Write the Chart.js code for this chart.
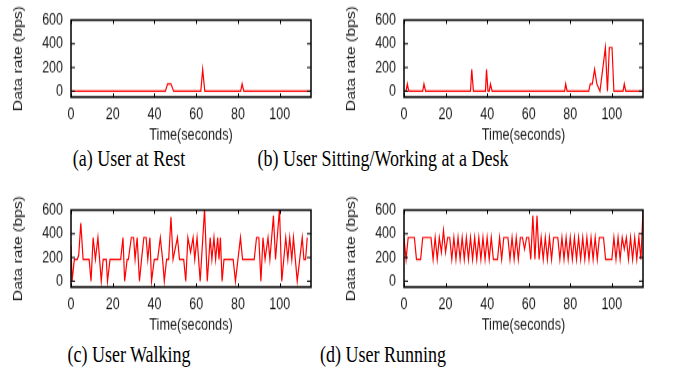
<!DOCTYPE html>
<html>
<head>
<meta charset="utf-8">
<script src="https://cdn.jsdelivr.net/npm/chart.js@4.4.1/dist/chart.umd.min.js"></script>
<style>
  body { margin: 0; background: #fff; width: 691px; height: 370px; position: relative; overflow: hidden; }
  /* the source figure is stretched vertically, so each panel is drawn 112px high and scaled to 145px */
  .box { position: absolute; width: 330px; height: 112px; transform: scaleY(1.2946); transform-origin: 0 0; }
  .box canvas { display: block; }
  .cap {
    position: absolute;
    font-family: "Liberation Serif", "Times New Roman", serif;
    font-size: 18px;
    line-height: 18px;
    color: #000;
    white-space: nowrap;
    transform: translateX(-50%) scaleY(1.25);
  }
</style>
</head>
<body>
<div class="box" style="left:0px;top:0px"><canvas id="rest" width="330" height="112"></canvas></div>
<div class="box" style="left:333px;top:0px"><canvas id="desk" width="330" height="112"></canvas></div>
<div class="box" style="left:0px;top:190px"><canvas id="walk" width="330" height="112"></canvas></div>
<div class="box" style="left:333px;top:190px"><canvas id="run" width="330" height="112"></canvas></div>
<div class="cap" style="left:129px;top:149px">(a) User at Rest</div>
<div class="cap" style="left:383px;top:149px">(b) User Sitting/Working at a Desk</div>
<div class="cap" style="left:129px;top:345px">(c) User Walking</div>
<div class="cap" style="left:383px;top:345px">(d) User Running</div>
<script>
// axis ticks
const timeTicks = [0, 20, 40, 60, 80, 100];
const rateTicks = [0, 200, 400, 600];

// (a) user at rest
const restTimes = [0, 45.2, 46.3, 47.9, 49.2, 62.2, 63.1, 64.1, 81.3, 82, 82.8, 115];
const restRates = [0, 0, 61, 61, 0, 0, 184, 0, 0, 61, 0, 0];

// (b) sitting / working at a desk
const deskTimes = [0, 1, 1.6, 2.3, 9, 9.6, 10.4, 32, 32.6, 33.4,
  39.2, 39.7, 40.4, 41, 41.6, 42.4, 77.3, 77.8, 78.5, 88.9,
  89.6, 90.6, 91.7, 92.8, 94.3, 96.9, 97.9, 98.8, 100.1, 101,
  105.4, 106, 106.7, 115];
const deskRates = [0, 0, 61, 0, 0, 61, 0, 0, 184, 0,
  0, 184, 0, 0, 61, 0, 0, 61, 0, 0,
  61, 61, 184, 61, 0, 368, 0, 368, 368, 0,
  0, 61, 0, 0];

// (c) walking
const walkTimes = [0, 0.5, 1.6, 3, 3.7, 4.7, 5.8, 8.7, 9.6, 10.6,
  11.7, 12.9, 14.5, 15.4, 16.9, 17.5, 18.7, 23.8, 24.9, 25.7,
  26.9, 27.5, 28.9, 30, 30.7, 31.7, 32.8, 33.8, 34.9, 36,
  36.8, 37.8, 38.6, 39.9, 41.5, 42.8, 43.9, 44.7, 45.8, 46.8,
  47.9, 48.9, 51, 52, 54, 55, 56, 57.3, 58.5, 59.3,
  60.4, 61.9, 64, 65.3, 66.7, 67.5, 68.5, 69.3, 70.3, 70.9,
  71.6, 72.4, 73.3, 77.7, 78.8, 81.2, 82.2, 87.8, 88.9, 90,
  91, 92, 93, 94.4, 95.3, 97, 98, 99.9, 101, 102.9,
  103.9, 104.8, 105.8, 106.6, 108.4, 110.8, 111.6, 112.4, 113.2];
const walkRates = [300, 0, 184, 184, 220, 490, 184, 184, 0, 368,
  184, 368, 0, 184, 184, 0, 184, 184, 368, 0,
  184, 184, 368, 368, 184, 368, 0, 184, 368, 368,
  184, 368, 0, 184, 184, 368, 184, 0, 184, 184,
  543, 184, 368, 184, 184, 0, 368, 245, 368, 184,
  368, 0, 610, 0, 368, 184, 368, 184, 368, 184,
  368, 0, 184, 184, 0, 368, 184, 184, 368, 368,
  0, 368, 184, 368, 184, 552, 184, 610, 0, 368,
  184, 368, 184, 368, 0, 368, 184, 184, 368];

// (d) running, one sample per second
const runRates = [368, 184, 368, 368, 368, 368, 184, 184, 184, 368,
  368, 368, 368, 368, 184, 368, 184, 368, 245, 430,
  245, 368, 368, 184, 368, 184, 368, 184, 368, 184,
  368, 184, 368, 184, 368, 184, 368, 184, 368, 184,
  368, 184, 368, 184, 184, 184, 368, 184, 368, 368,
  368, 184, 368, 184, 368, 184, 368, 368, 270, 368,
  368, 184, 552, 184, 552, 184, 368, 184, 368, 184,
  368, 184, 368, 368, 368, 184, 368, 184, 368, 184,
  368, 184, 368, 184, 368, 184, 368, 184, 368, 184,
  368, 184, 368, 184, 368, 368, 368, 184, 184, 184,
  184, 368, 184, 368, 184, 368, 270, 368, 184, 368,
  184, 368, 184, 368, 184, 600];
const runTimes = runRates.map((_, i) => i);

const sans = 'Liberation Sans, Arial, sans-serif';
const tickFont = { family: sans, size: 12.5 };

// gnuplot style box with inward ticks on all four sides
const frame = {
  id: 'frame',
  afterDraw(chart) {
    const { ctx, chartArea: a, scales: { x, y } } = chart;
    ctx.save();
    ctx.strokeStyle = '#000';
    ctx.lineWidth = 1;
    ctx.beginPath();
    y.ticks.forEach(t => {
      const p = y.getPixelForValue(t.value);
      ctx.moveTo(a.left, p); ctx.lineTo(a.left + 4, p);
      ctx.moveTo(a.right, p); ctx.lineTo(a.right - 4, p);
    });
    x.ticks.forEach(t => {
      const p = Math.round(x.getPixelForValue(t.value)) + 0.5;
      ctx.moveTo(p, a.bottom); ctx.lineTo(p, a.bottom - 3);
      ctx.moveTo(p, a.top); ctx.lineTo(p, a.top + 3);
    });
    ctx.stroke();
    ctx.lineWidth = 1.5;
    ctx.strokeRect(a.left, a.top, a.right - a.left, a.bottom - a.top);
    ctx.restore();
  }
};

function panel(id, times, rates, rightPad) {
  return new Chart(document.getElementById(id), {
    type: 'line',
    data: {
      datasets: [{
        data: times.map((t, i) => ({ x: t, y: rates[i] })),
        borderColor: '#ff0000',
        borderWidth: 1.2,
        pointRadius: 0,
        tension: 0,
        fill: false
      }]
    },
    options: {
      responsive: false,
      animation: false,
      layout: { padding: { top: 7.7, right: rightPad, left: 0, bottom: 0 } },
      plugins: { legend: { display: false }, tooltip: { enabled: false } },
      scales: {
        x: {
          type: 'linear',
          min: 0,
          max: 115,
          afterBuildTicks: s => { s.ticks = timeTicks.map(v => ({ value: v })); },
          afterFit: s => { s.height = 37; },
          grid: { display: false, drawTicks: false, tickLength: 0 },
          border: { display: false },
          ticks: { font: tickFont, color: '#1a1a1a', padding: 6, maxRotation: 0 },
          title: { display: true, text: 'Time(seconds)', font: { family: sans, size: 12.7 }, color: '#1a1a1a', padding: { top: 0, bottom: 0 } }
        },
        y: {
          min: -50,
          max: 600,
          afterBuildTicks: s => { s.ticks = rateTicks.map(v => ({ value: v })); },
          afterFit: s => { s.width = 71; },
          grid: { display: false, drawTicks: false, tickLength: 0 },
          border: { display: false },
          ticks: { font: tickFont, color: '#1a1a1a', padding: 8 },
          title: { display: true, text: 'Data rate (bps)', font: { family: sans, size: 12.2 }, color: '#1a1a1a', padding: { top: 11, bottom: 0 } }
        }
      }
    },
    plugins: [frame]
  });
}

panel('rest', restTimes, restRates, 19);
panel('desk', deskTimes, deskRates, 20);
panel('walk', walkTimes, walkRates, 19);
panel('run', runTimes, runRates, 20);
</script>
</body>
</html>
